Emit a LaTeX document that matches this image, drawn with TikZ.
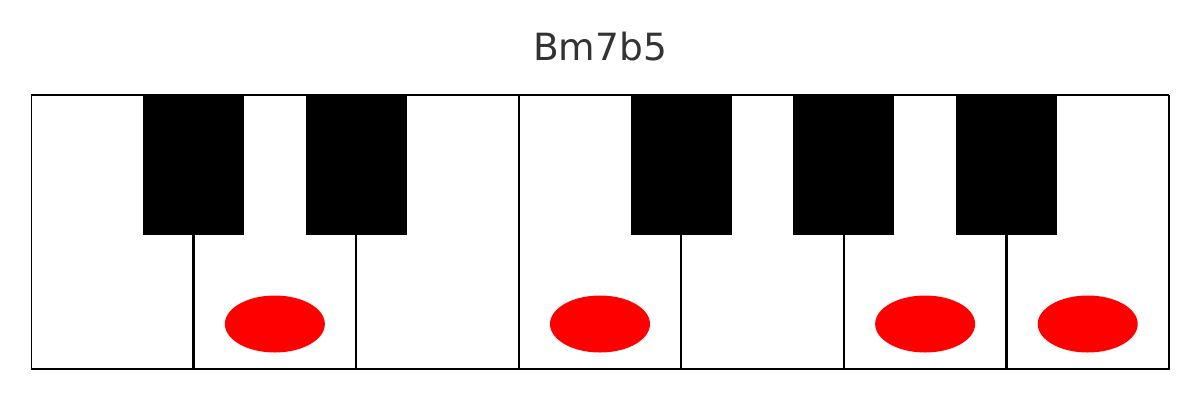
\documentclass[tikz,border=0pt]{standalone}
\usepackage{fontspec}
\setmainfont{DejaVu Sans}
\usetikzlibrary{shapes.geometric}
\definecolor{titlegray}{HTML}{333333}
\begin{document}
\begin{tikzpicture}[x=1pt,y=-1pt,
  whitekey/.style={draw=black,fill=white,line width=2.2pt},
  blackkey/.style={draw=black,fill=black,line width=1pt},
  dot/.style={fill=red,draw=none},
  spine/.style={draw=black,line width=1pt}]
\useasboundingbox (0,0) rectangle (1200,400);
\node[text=titlegray,font=\fontsize{37.5}{40}\selectfont,anchor=base] (title) at (600,60) {Bm7b5};
\begin{scope}
\clip (31,95) rectangle (1169,369);
\foreach \i in {0,...,6}{
  \path[whitekey] ({31+162.571*\i},95) rectangle ({31+162.571*(\i+1)},369);
}
\foreach \i in {1,2,4,5,6}{
  \path[blackkey] ({31+162.571*\i-50},95) rectangle ({31+162.571*\i+50},234);
}
\end{scope}
\path[spine] (31,95) rectangle (1169,369);
\coordinate (tl) at (31,95.3);
\coordinate (tr) at (1169,95.3);
\draw[line width=2pt] (tl) -- (tr);
\foreach \i/\n in {1/a,3/b,5/c,6/d}{
  \node[dot,ellipse,minimum width=100pt,minimum height=57pt,inner sep=0pt] (n\n) at ({31+162.571*(\i+0.5)},324) {};
}
\end{tikzpicture}
\end{document}
